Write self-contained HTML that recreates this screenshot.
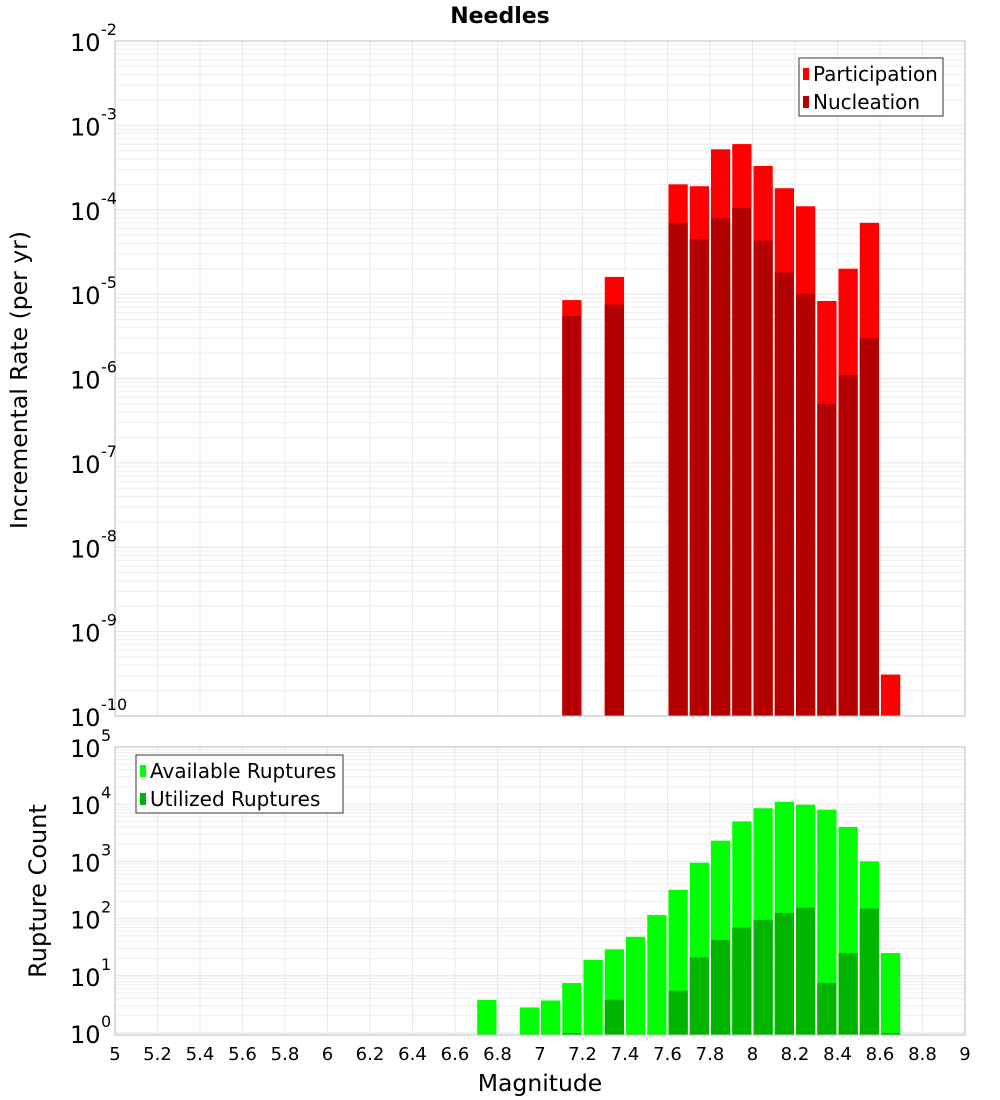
<!DOCTYPE html>
<html><head><meta charset="utf-8"><style>
body{margin:0;background:#fff;}
svg{display:block;font-family:"DejaVu Sans","Liberation Sans",sans-serif;}
</style></head><body>
<svg id="c" width="1000" height="1100"></svg>
<script>
const bins=[6.7,6.9,7.0,7.1,7.2,7.3,7.4,7.5,7.6,7.7,7.8,7.9,8.0,8.1,8.2,8.3,8.4,8.5,8.6];
const partBins=[7.1,7.3,7.6,7.7,7.8,7.9,8.0,8.1,8.2,8.3,8.4,8.5,8.6];
const participation=[8.5e-6,1.6e-5,2e-4,1.9e-4,5.2e-4,6e-4,3.3e-4,1.8e-4,1.1e-4,8.3e-6,2e-5,7e-5,3.1e-10];
const nucleation=[5.5e-6,7.5e-6,7e-5,4.5e-5,8e-5,1.05e-4,4.3e-5,1.8e-5,1.0e-5,5e-7,1.1e-6,3e-6,0];
const available=[3.8,2.8,3.7,7.5,19,29,48,115,320,950,2300,5000,8500,11000,9800,8000,4000,1000,25];
const utilized=[0,0,0,1,0,3.8,0,0,5.5,21,42,70,95,125,155,7.5,25,150,1];
const xTicks=[5,5.2,5.4,5.6,5.8,6,6.2,6.4,6.6,6.8,7,7.2,7.4,7.6,7.8,8,8.2,8.4,8.6,8.8,9];
const topExp=[-2,-3,-4,-5,-6,-7,-8,-9,-10];
const botExp=[5,4,3,2,1,0];

const svg=document.getElementById('c');
const NS='http://www.w3.org/2000/svg';
function el(t,a,p){const e=document.createElementNS(NS,t);for(const k in a)e.setAttribute(k,a[k]);(p||svg).appendChild(e);return e;}
const L=115,R=965;
const X=m=>L+(m-5)*(R-L)/4;
const T0=41,T1=716,B0=747,B1=1035;
const yTop=v=>T0+(-2-Math.log10(v))*(T1-T0)/8;
const botPx=57.2;
const yBot=v=>B0+(5-Math.log10(v))*botPx;

function grid(y0,y1,yf,eLo,eHi,name){
  const g=el('g',{});
  
  
  for(let e=eLo;e<eHi;e++)for(let k=1;k<10;k++){const y=yf(k*Math.pow(10,e));if(y<y0||y>y1)continue;el('line',{x1:L,x2:R,y1:y,y2:y,stroke:k==1?'#e4e4e4':'#eeeeee','stroke-width':1},g);}
  xTicks.forEach(t=>{el('line',{x1:X(t),x2:X(t),y1:y0,y2:y1,stroke:'#e8e8e8'},g);});
}
grid(T0,T1,yTop,-10,-1,'top-grid');
grid(B0,B1,yBot,-1,6,'bottom-grid');

function bars(bs,vals,yf,base,color,name){
  bs.forEach((m,i)=>{const v=vals[i];if(!v)return;const y=Math.max(yf(v),0);
    const r=el('rect',{x:X(m)+1,y:y,width:X(m+0.1)-X(m)-2,height:base-y,fill:color});
    
    });
}
bars(partBins,participation,yTop,T1,'#ff0000','participation-bar');
bars(partBins,nucleation,yTop,T1,'#b40000','nucleation-bar');
bars(bins,available,yBot,B1,'#00ff00','available-bar');
bars(bins,utilized,yBot,B1,'#00b400','utilized-bar');

el('rect',{x:L,y:T0,width:R-L,height:T1-T0,fill:'none',stroke:'#bbb'});
el('rect',{x:L,y:B0,width:R-L,height:B1-B0,fill:'none',stroke:'#bbb'});

function ylab(y,e,name){
  const t=el('text',{x:70,y:y+10,'font-size':24,fill:'#000'});
  
  
  t.textContent='10';
  const s=el('text',{x:101,y:y-6,'font-size':16,fill:'#000'});
  s.textContent=String(e);
}
topExp.forEach(e=>ylab(yTop(Math.pow(10,e)),e,'top-y-tick'));
botExp.forEach(e=>ylab(yBot(Math.pow(10,e)),e,'bottom-y-tick'));
xTicks.forEach(t=>{const tx=el('text',{x:X(t),y:1060,'font-size':18,'text-anchor':'middle'});
  
  
  tx.textContent=String(t);});

const title=el('text',{x:500,y:23,'font-size':22,'font-weight':'bold','text-anchor':'middle'});
title.textContent='Needles';
const xt=el('text',{x:540,y:1091,'font-size':23.5,'text-anchor':'middle'});
xt.textContent='Magnitude';
const yt1=el('text',{x:0,y:0,'font-size':23.5,'text-anchor':'middle',transform:'translate(27,380) rotate(-90)'});
yt1.textContent='Incremental Rate (per yr)';
const yt2=el('text',{x:0,y:0,'font-size':24,'text-anchor':'middle',transform:'translate(46,891) rotate(-90)'});
yt2.textContent='Rupture Count';

function legend(x,y,w,items,name){
  const g=el('g',{});
  
  
  el('rect',{x:x,y:y,width:w,height:58,fill:'#fff',stroke:'#333'},g);
  items.forEach((it,i)=>{el('rect',{x:x+4,y:y+10+i*28,width:6,height:12,fill:it[1]},g);
    const t=el('text',{x:x+14,y:y+23+i*28,'font-size':20},g);t.textContent=it[0];});
}
legend(799,58,144,[['Participation','#ff0000'],['Nucleation','#b40000']],'top-legend');
legend(136,755,207,[['Available Ruptures','#00ff00'],['Utilized Ruptures','#00b400']],'bottom-legend');
</script>
</body></html>
